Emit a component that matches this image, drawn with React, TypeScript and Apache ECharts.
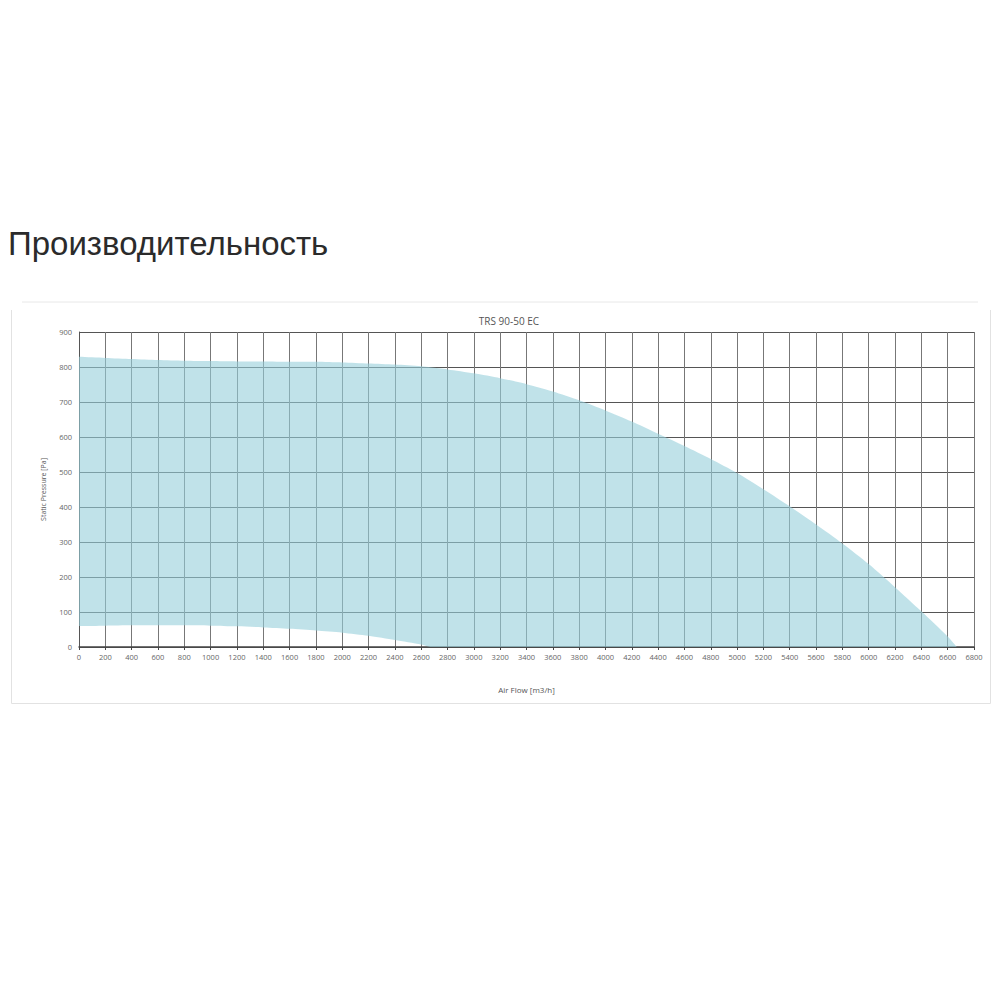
import React, { useEffect, useRef } from 'react';
import * as echarts from 'echarts';

// Air flow points [m3/h] shared by both boundary curves
const airFlow = [
  0, 200, 400, 600, 800, 1000, 1200, 1400, 1600, 1800, 2000, 2200, 2400, 2600, 2670,
  2800, 3000, 3200, 3400, 3600, 3800, 4000, 4200, 4400, 4600, 4800, 5000, 5200, 5400,
  5600, 5800, 6000, 6200, 6400, 6600, 6670,
];

// Upper boundary of the working range [Pa]
const maxPressure = [
  829, 826, 823, 820, 818, 817, 816, 816, 815, 815, 813, 810, 807, 802, 799,
  793, 782, 768, 751, 730, 705, 676, 644, 609, 574, 537, 497, 451, 402,
  350, 296, 237, 171, 102, 30, 0,
];

// Lower boundary of the working range [Pa]
const minPressure = [
  60, 61, 62, 62, 62, 61, 59, 56, 52, 47, 41, 32, 20, 7, 0,
  0, 0, 0, 0, 0, 0, 0, 0, 0, 0, 0, 0, 0, 0,
  0, 0, 0, 0, 0, 0, 0,
];

const chartTitle = 'TRS 90-50 EC';
const pageTitle = 'Производительность';
const xAxisName = 'Air Flow [m3/h]';
const yAxisName = 'Static Pressure [Pa]';

const App: React.FC = () => {
  const chartRef = useRef<HTMLDivElement>(null);

  useEffect(() => {
    if (!chartRef.current) return;
    const chart = echarts.init(chartRef.current, undefined, { renderer: 'svg' });

    const labelFont = 'Open Sans';

    // Working range drawn as one polygon: upper curve forward, lower curve back
    const renderRange = (_params: any, api: any) => {
      const upper = airFlow.map((x, i) => api.coord([x, maxPressure[i]]));
      const lower = airFlow.map((x, i) => api.coord([x, minPressure[i]])).reverse();
      // corner points doubled so the smoothing keeps the left edge straight
      const points = [upper[0], ...upper, ...lower, lower[lower.length - 1]];
      const boxMin = api.coord([0, 900]);
      const boxMax = api.coord([6800, 0]);
      return {
        type: 'polygon',
        shape: {
          points,
          smooth: 0.25,
          smoothConstraint: [boxMin, boxMax],
        },
        style: { fill: 'rgba(150,206,218,0.6)', stroke: 'none' },
        silent: true,
      };
    };

    const option: echarts.EChartsOption = {
      animation: false,
      backgroundColor: '#fff',
      textStyle: { fontFamily: labelFont },
      title: {
        text: chartTitle,
        left: 504,
        top: 311,
        textAlign: 'center',
        textStyle: { fontSize: 10, fontWeight: 'normal', color: '#555', fontFamily: labelFont },
      },
      graphic: [
        {
          type: 'text',
          left: 8,
          top: 227,
          style: {
            text: pageTitle,
            fontSize: 33,
            fontFamily: 'Liberation Sans',
            fill: '#2b2b2b',
          },
        },
        {
          type: 'line',
          shape: { x1: 22, y1: 302, x2: 978, y2: 302 },
          style: { stroke: '#e8e8e8', lineWidth: 1 },
        },
        {
          type: 'polyline',
          shape: { points: [[11.5, 310], [11.5, 703.5], [990.5, 703.5], [990.5, 310]] },
          style: { stroke: '#e2e2e2', lineWidth: 1, fill: 'none' },
        },
      ],
      grid: {
        left: 79,
        right: 26,
        top: 332,
        bottom: 353,
      },
      xAxis: {
        type: 'value',
        min: 0,
        max: 6800,
        interval: 200,
        name: xAxisName,
        nameLocation: 'middle',
        nameGap: 38,
        nameTextStyle: { fontSize: 8, color: '#555' },
        axisLine: { show: true, lineStyle: { color: '#444', width: 1.5 } },
        axisTick: { show: true, length: 3, lineStyle: { color: '#444' } },
        axisLabel: { fontSize: 7.5, color: '#666', margin: 6, formatter: (v: number) => String(v) },
        splitLine: { show: true, lineStyle: { color: '#777', width: 1 } },
      },
      yAxis: {
        type: 'value',
        min: 0,
        max: 900,
        interval: 100,
        name: yAxisName,
        nameLocation: 'middle',
        nameGap: 32,
        nameRotate: 90,
        nameTextStyle: { fontSize: 7, color: '#555' },
        axisLine: { show: true, lineStyle: { color: '#555', width: 1 } },
        axisTick: { show: false },
        axisLabel: { fontSize: 7.5, color: '#666', margin: 7 },
        splitLine: { show: true, lineStyle: { color: '#555', width: 1 } },
      },
      series: [
        {
          name: 'range',
          type: 'custom',
          renderItem: renderRange as any,
          data: [[0, 0]],
          clip: true,
          silent: true,
        },
      ],
    };

    chart.setOption(option);

    return () => {
      chart.dispose();
    };
  }, []);

  return (
    <div
      ref={chartRef}
      style={{ position: 'absolute', left: 0, top: 0, width: '1000px', height: '1000px' }}
    />
  );
};

export default App;
